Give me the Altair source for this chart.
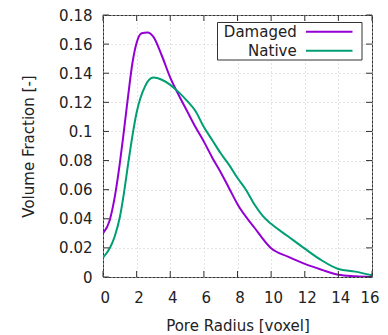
import altair as alt
import pandas as pd

# ---- data ----
radius_damaged = [0, 0.4, 0.7, 1.0, 1.25, 1.5, 1.75, 2.0, 2.3, 2.65, 3.0, 3.5, 4.0, 4.5,
                  5.0, 5.5, 6.0, 6.5, 7.0, 7.5, 8.0, 9.0, 10.0, 11.0, 12.0, 13.0, 14.0, 15.0, 16.0]
damaged = [0.030, 0.039, 0.055, 0.078, 0.101, 0.125, 0.147, 0.161, 0.1675, 0.168, 0.165, 0.152,
           0.137, 0.125, 0.114, 0.103, 0.093, 0.082, 0.072, 0.061, 0.050, 0.034, 0.0197, 0.014,
           0.009, 0.005, 0.0015, 0.0005, 0.0]

radius_native = [0, 0.4, 0.7, 1.0, 1.25, 1.5, 1.75, 2.0, 2.5, 3.0, 3.5, 4.0, 4.5, 5.0, 5.5,
                 6.0, 6.5, 7.0, 7.5, 8.0, 8.5, 9.0, 9.5, 10.0, 11.0, 12.0, 13.0, 14.0, 15.0, 16.0]
native = [0.0133, 0.0197, 0.028, 0.041, 0.058, 0.078, 0.097, 0.113, 0.131, 0.137, 0.1355,
          0.132, 0.127, 0.121, 0.114, 0.103, 0.094, 0.085, 0.077, 0.068, 0.060, 0.050, 0.042,
          0.0365, 0.028, 0.0195, 0.0115, 0.0055, 0.0037, 0.0012]

series_names = ["Damaged", "Native"]
series_colors = ["#9400D3", "#009E73"]

x_ticks = [0, 2, 4, 6, 8, 10, 12, 14, 16]
y_ticks = [0, 0.02, 0.04, 0.06, 0.08, 0.1, 0.12, 0.14, 0.16, 0.18]

df = pd.concat([
    pd.DataFrame({"radius": radius_damaged, "fraction": damaged, "series": series_names[0]}),
    pd.DataFrame({"radius": radius_native, "fraction": native, "series": series_names[1]}),
])

W, H = 269, 262
FONT = "DejaVu Sans"
TXT = "#222222"
EDGE = "#333333"

xscale = alt.Scale(domain=[0, 16], nice=False, zero=False)
yscale = alt.Scale(domain=[0, 0.18], nice=False, zero=False)

x_axis = alt.Axis(values=x_ticks, title="Pore Radius [voxel]", labelPadding=13,
                  labelFlush=True, labelFlushOffset=5, labelOffset=2, titleY=53, titleX=W / 2,
                  titleBaseline="alphabetic")
y_axis = alt.Axis(values=y_ticks, title="Volume Fraction [-]", format="~g",
                  labelPadding=11, titleX=-70, titleY=H / 2,
                  titleBaseline="alphabetic")

lines = alt.Chart(df).mark_line(interpolate="monotone", strokeWidth=2, clip=True).encode(
    x=alt.X("radius:Q", scale=xscale, axis=x_axis),
    y=alt.Y("fraction:Q", scale=yscale, axis=y_axis),
    color=alt.Color("series:N", scale=alt.Scale(domain=series_names, range=series_colors),
                    legend=None),
)

xt = pd.DataFrame({"radius": x_ticks})
yt = pd.DataFrame({"fraction": y_ticks})
TL = 6
ticks_bottom = alt.Chart(xt).mark_rule(color=EDGE).encode(
    x=alt.X("radius:Q", scale=xscale, axis=x_axis), y=alt.value(H), y2=alt.value(H - TL))
ticks_top = alt.Chart(xt).mark_rule(color=EDGE).encode(
    x=alt.X("radius:Q", scale=xscale, axis=x_axis), y=alt.value(0), y2=alt.value(TL))
ticks_left = alt.Chart(yt).mark_rule(color=EDGE).encode(
    y=alt.Y("fraction:Q", scale=yscale, axis=y_axis), x=alt.value(0), x2=alt.value(TL))
ticks_right = alt.Chart(yt).mark_rule(color=EDGE).encode(
    y=alt.Y("fraction:Q", scale=yscale, axis=y_axis), x=alt.value(W), x2=alt.value(W - TL))

dummy = pd.DataFrame({"a": [0]})
legend_box = alt.Chart(dummy).mark_rect(fill="white", stroke=EDGE, strokeWidth=1).encode(
    x=alt.value(114.5), x2=alt.value(259), y=alt.value(7.5), y2=alt.value(45))

legend_layers = [legend_box]
for i, (name, col) in enumerate(zip(series_names, series_colors)):
    ly = 16.7 + i * 19
    legend_layers.append(
        alt.Chart(dummy).mark_rule(color=col, strokeWidth=2).encode(
            x=alt.value(203), x2=alt.value(249.5), y=alt.value(ly)))
    legend_layers.append(
        alt.Chart(dummy).mark_text(text=name, align="right", baseline="alphabetic",
                                   font=FONT, fontSize=15, color=TXT).encode(
            x=alt.value(193.7), y=alt.value(ly + 5.3)))

chart = alt.layer(lines, ticks_bottom, ticks_top, ticks_left, ticks_right, *legend_layers).properties(
    width=W, height=H, autosize="none",
    padding={"left": 95, "top": 7, "right": 8, "bottom": 56},
).configure_axis(
    labelFont=FONT, labelFontSize=15, labelColor=TXT,
    titleFont=FONT, titleFontSize=15, titleFontWeight="normal", titleColor=TXT,
    grid=True, gridColor="#c8c8c8", gridDash=[1, 3], gridWidth=1,
    domain=False, ticks=False,
).configure_view(stroke=EDGE, strokeWidth=1)

chart.save("out.html", embed_options={"renderer": "svg", "actions": False})
